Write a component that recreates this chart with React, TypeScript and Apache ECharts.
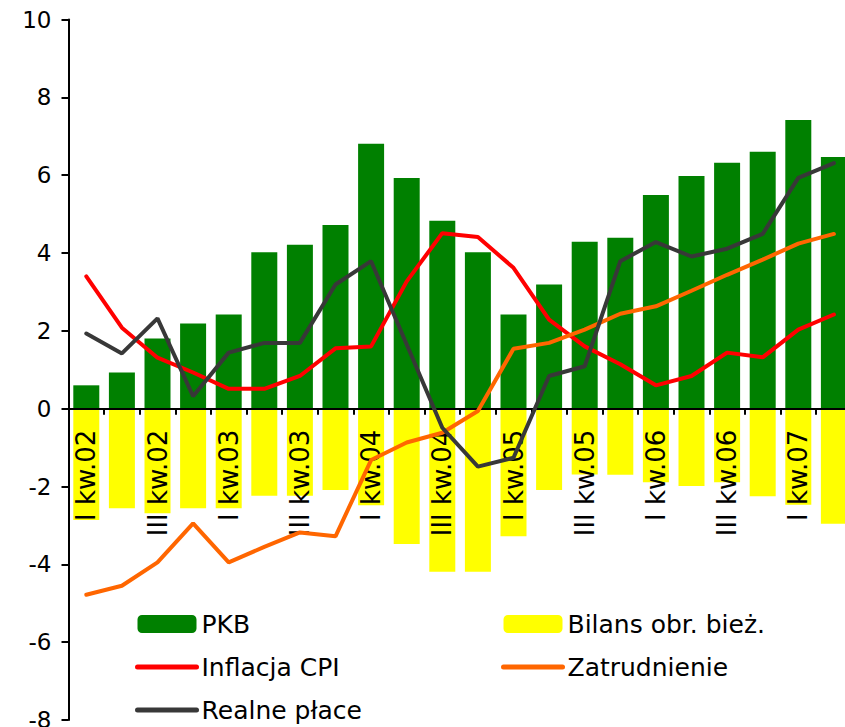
import React, { useEffect, useRef } from "react";
import * as echarts from "echarts";

const categories = [
  "I kw.02", "II kw.02", "III kw.02", "IV kw.02",
  "I kw.03", "II kw.03", "III kw.03", "IV kw.03",
  "I kw.04", "II kw.04", "III kw.04", "IV kw.04",
  "I kw.05", "II kw.05", "III kw.05", "IV kw.05",
  "I kw.06", "II kw.06", "III kw.06", "IV kw.06",
  "I kw.07", "II kw.07",
];

const pkb = [0.6, 0.93, 1.8, 2.19, 2.42, 4.02, 4.21, 4.72, 6.81, 5.93, 4.83, 4.02, 2.42, 3.19, 4.29, 4.39, 5.49, 5.98, 6.32, 6.6, 7.42, 6.47];
const bilans = [-2.86, -2.56, -2.69, -2.56, -2.56, -2.24, -2.24, -2.09, -2.48, -3.48, -4.19, -4.19, -3.28, -2.09, -1.69, -1.7, -1.89, -1.99, -1.89, -2.25, -2.47, -2.96];
const inflacja = [3.4, 2.08, 1.31, 0.93, 0.51, 0.51, 0.84, 1.55, 1.6, 3.27, 4.51, 4.41, 3.62, 2.29, 1.6, 1.14, 0.6, 0.84, 1.44, 1.32, 2.03, 2.42];
const zatrudnienie = [-4.78, -4.55, -3.95, -2.95, -3.95, -3.55, -3.18, -3.28, -1.32, -0.87, -0.62, -0.06, 1.54, 1.69, 2.03, 2.44, 2.63, 3.03, 3.44, 3.83, 4.24, 4.49];
const realnePlace = [1.93, 1.42, 2.32, 0.32, 1.44, 1.69, 1.69, 3.19, 3.79, 1.65, -0.49, -1.49, -1.26, 0.84, 1.09, 3.79, 4.28, 3.91, 4.11, 4.49, 5.93, 6.31];

const FONT = "DejaVu Sans";

export default function App() {
  const ref = useRef<HTMLDivElement>(null);

  useEffect(() => {
    if (!ref.current) return;
    const chart = echarts.init(ref.current, null, { renderer: "svg" });
    const lineSeries = (name: string, data: number[], color: string) => ({
      name,
      type: "line",
      data,
      symbol: "none",
      z: 3,
      lineStyle: { color, width: 4, cap: "round" },
      itemStyle: { color },
    });
    const hiddenSymbol = { opacity: 0, color: "rgba(0,0,0,0)", borderWidth: 0 };
    const legendText = { fontFamily: FONT, fontSize: 25, color: "#000", lineHeight: 26 };
    const legendBase = {
      orient: "vertical",
      top: 611,
      padding: 0,
      height: 120,
      itemWidth: 59,
      itemHeight: 18,
      itemGap: 17,
      textStyle: legendText,
      lineStyle: { width: 5, cap: "round" },
    };
    // zero line of the value axis sits at pixel 409.3 (top 19.5 + 10/18 of the plot height)
    const plotTop = 19.5;
    const plotBottom = 7;
    const zeroFromBottom = 727 - (plotTop + (727 - plotTop - plotBottom) * (10 / 18));
    chart.setOption({
      animation: false,
      backgroundColor: "#fff",
      grid: [
        {
          left: 68.5,
          right: -6.7,
          top: plotTop,
          bottom: plotBottom,
          containLabel: false,
          outerBoundsMode: "none",
        },
        {
          left: 68.5,
          right: -6.7,
          top: plotTop,
          bottom: zeroFromBottom,
          containLabel: false,
          outerBoundsMode: "none",
        },
      ],
      legend: [
        {
          ...legendBase,
          left: 135,
          data: [
            { name: "PKB" },
            { name: "Inflacja CPI", itemStyle: hiddenSymbol },
            { name: "Realne płace", itemStyle: hiddenSymbol },
          ],
        },
        {
          ...legendBase,
          left: 501,
          data: [
            { name: "Bilans obr. bież." },
            { name: "Zatrudnienie", itemStyle: hiddenSymbol },
          ],
        },
      ],
      xAxis: [
        {
          type: "category",
          data: categories,
          gridIndex: 0,
          z: 2,
          axisLine: { onZero: true, lineStyle: { color: "#000", width: 2 } },
          axisTick: { show: true, interval: 0, length: 6, lineStyle: { color: "#000", width: 2 } },
          axisLabel: { show: false },
          splitLine: { show: false },
        },
        {
          type: "category",
          data: categories,
          gridIndex: 1,
          z: 2,
          axisLine: { show: false },
          axisTick: { show: false },
          axisLabel: {
            interval: 1,
            rotate: 90,
            margin: 21,
            fontFamily: FONT,
            fontSize: 26,
            color: "#000",
          },
          splitLine: { show: false },
        },
      ],
      yAxis: [
        {
          type: "value",
          gridIndex: 0,
          min: -8,
          max: 10,
          interval: 2,
          z: 2,
          axisLine: { show: true, lineStyle: { color: "#000", width: 2 } },
          axisTick: { show: true, length: 7, lineStyle: { color: "#000", width: 2 } },
          axisLabel: { margin: 17, fontFamily: FONT, fontSize: 23, color: "#000" },
          splitLine: { show: false },
        },
        {
          type: "value",
          gridIndex: 1,
          show: false,
          min: 0,
          max: 10,
        },
      ],
      series: [
        {
          name: "PKB",
          type: "bar",
          data: pkb,
          barWidth: 26,
          barGap: "-100%",
          z: 1,
          itemStyle: { color: "#008000" },
        },
        {
          name: "Bilans obr. bież.",
          type: "bar",
          data: bilans,
          barWidth: 26,
          barGap: "-100%",
          z: 1,
          itemStyle: { color: "#ffff00" },
        },
        lineSeries("Inflacja CPI", inflacja, "#ff0000"),
        lineSeries("Zatrudnienie", zatrudnienie, "#ff6600"),
        lineSeries("Realne płace", realnePlace, "#383838"),
      ],
    });
    return () => chart.dispose();
  }, []);

  return (
    <div
      ref={ref}
      style={{ position: "absolute", left: 0, top: 0, width: 845, height: 727 }}
    />
  );
}
